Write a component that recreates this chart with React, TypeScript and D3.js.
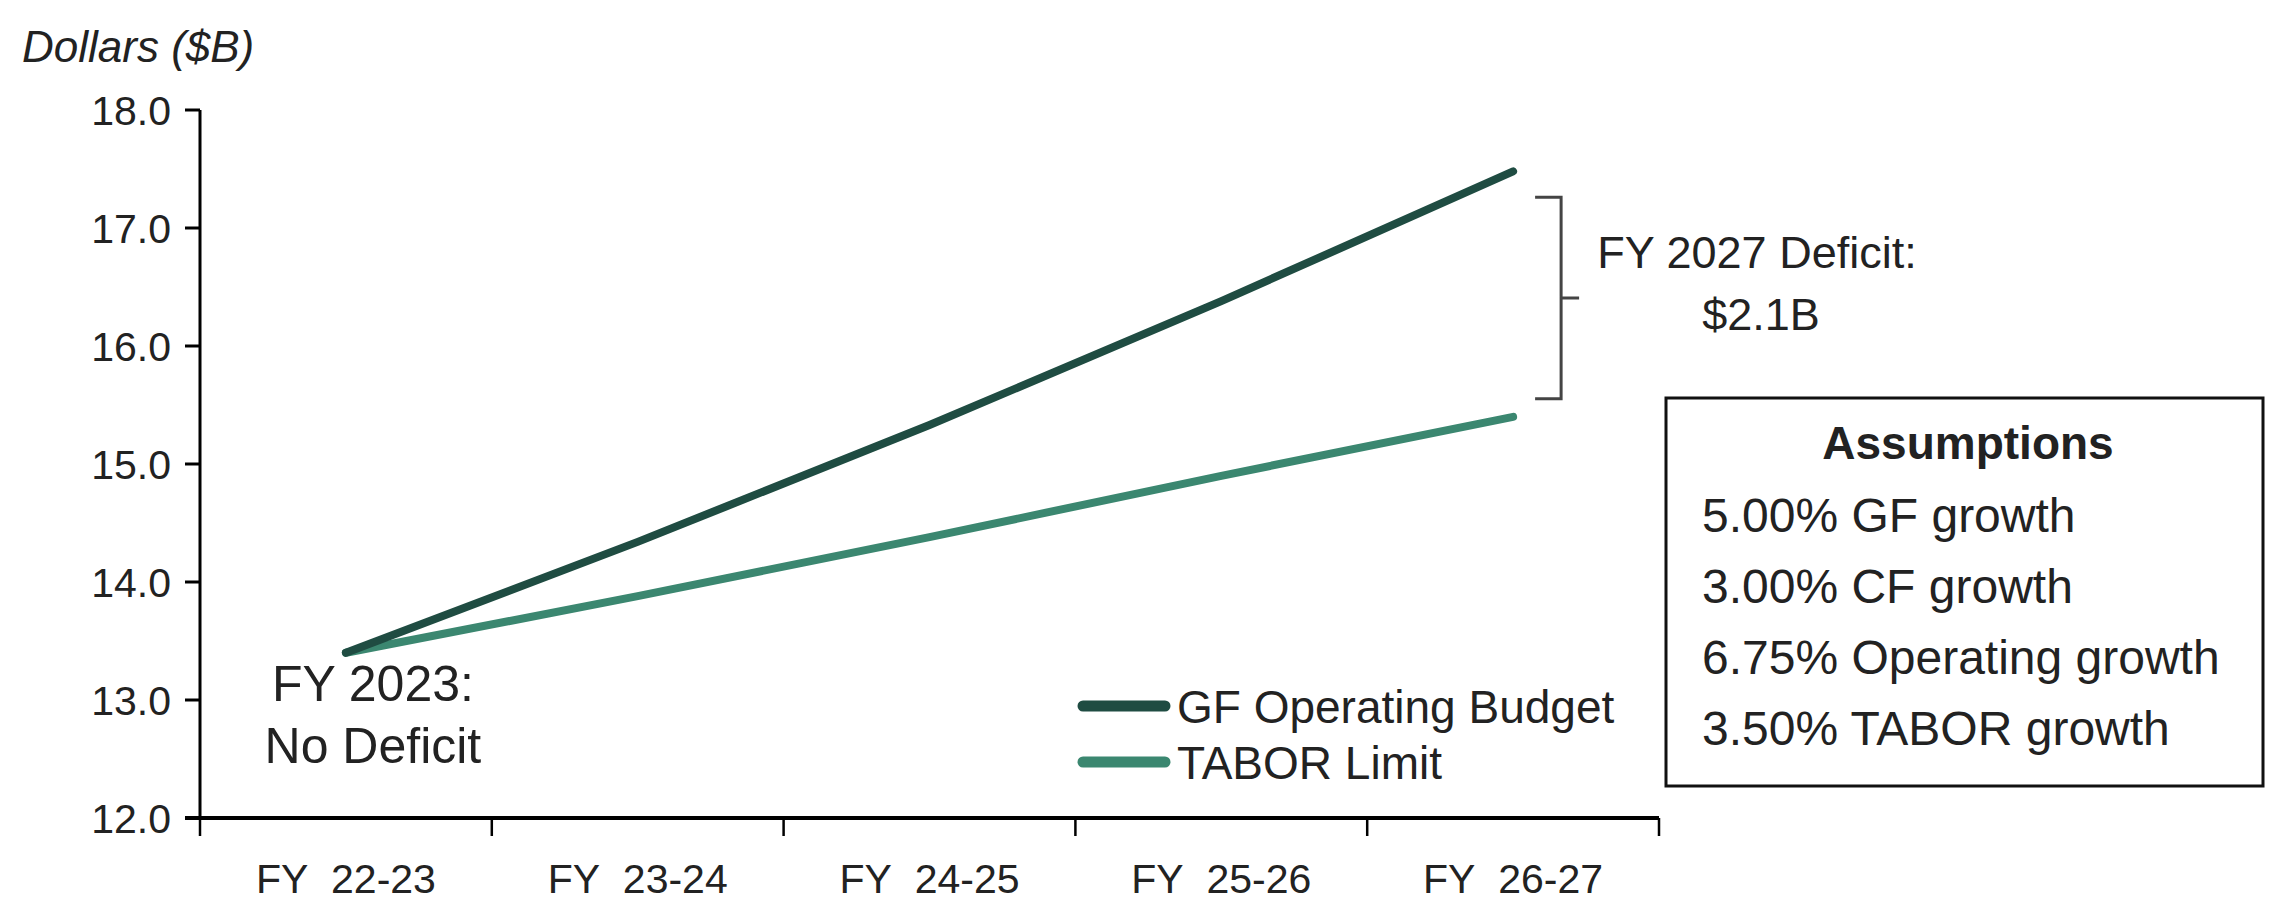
import * as d3 from 'd3';

const categories = ['FY 22-23', 'FY 23-24', 'FY 24-25', 'FY 25-26', 'FY 26-27'];
const gfBudget = [13.4, 14.34, 15.33, 16.38, 17.48];
const taborLimit = [13.4, 13.88, 14.38, 14.9, 15.4];
const yTicks = [12, 13, 14, 15, 16, 17, 18];
const assumptions = ['5.00% GF growth', '3.00% CF growth', '6.75% Operating growth', '3.50% TABOR growth'];

const seriesList = [
  { name: 'GF Operating Budget', values: gfBudget, color: '#1f4c42' },
  { name: 'TABOR Limit', values: taborLimit, color: '#3b8770' },
];

export default function App() {
  const width = 2292;
  const height = 902;
  const marginLeft = 200;
  const marginRight = 633;
  const marginTop = 110;
  const marginBottom = 84;
  const font = '"Liberation Sans", Arial, sans-serif';

  const x = d3
    .scaleBand<string>()
    .domain(categories)
    .range([marginLeft, width - marginRight]);

  const y = d3
    .scaleLinear()
    .domain([12, 18])
    .range([height - marginBottom, marginTop]);

  const cx = (i: number) => (x(categories[i]) ?? 0) + x.bandwidth() / 2;

  const line = d3
    .line<number>()
    .x((_, i) => cx(i))
    .y((d) => y(d));

  const last = categories.length - 1;
  // bracket between the two end values
  const bx = cx(last) + 48;
  const bTop = y(gfBudget[last]) + 26;
  const bBot = y(taborLimit[last]) - 18;
  const bMid = (bTop + bBot) / 2;

  const bandEdges = [...categories.map((c) => x(c) ?? 0), x.range()[1]];

  return (
    <svg
      width={width}
      height={height}
      style={{ position: 'absolute', left: 0, top: 0, background: '#fff' }}
      fontFamily={font}
    >
      {/* y label */}
      <text x={22} y={46} dy="0.36em" fontSize={44} fontStyle="italic" fill="#222">
        Dollars ($B)
      </text>

      {/* y axis */}
      <line x1={marginLeft} x2={marginLeft} y1={y(18)} y2={y(12)} stroke="#000" strokeWidth={3} />
      {yTicks.map((t) => (
        <g key={t}>
          <line x1={marginLeft - 15} x2={marginLeft} y1={y(t)} y2={y(t)} stroke="#000" strokeWidth={3} />
          <text x={marginLeft - 29} y={y(t)} dy="0.36em" textAnchor="end" fontSize={41} fill="#222">
            {t.toFixed(1)}
          </text>
        </g>
      ))}

      {/* x axis */}
      <line x1={marginLeft - 15} x2={x.range()[1]} y1={y(12)} y2={y(12)} stroke="#000" strokeWidth={4} />
      {bandEdges.map((e, i) => (
        <line key={i} x1={e} x2={e} y1={y(12)} y2={y(12) + 18} stroke="#000" strokeWidth={2.5} />
      ))}
      {categories.map((c, i) => (
        <text key={c} x={cx(i)} y={y(12) + 60} dy="0.36em" textAnchor="middle" fontSize={41} fill="#222">
          {c.replace(' ', '\u00a0 ')}
        </text>
      ))}

      {/* series */}
      {seriesList
        .slice()
        .reverse()
        .map((s) => (
          <path
            key={s.name}
            d={line(s.values) ?? ''}
            fill="none"
            stroke={s.color}
            strokeWidth={8}
            strokeLinecap="round"
          />
        ))}

      {/* start annotation */}
      <text x={cx(0) + 27} y={y(13) - 17} dy="0.36em" textAnchor="middle" fontSize={50} fill="#222">
        FY 2023:
      </text>
      <text x={cx(0) + 27} y={y(13) + 45} dy="0.36em" textAnchor="middle" fontSize={50} fill="#222">
        No Deficit
      </text>

      {/* legend */}
      {seriesList.map((s, i) => (
        <g key={s.name} transform={`translate(1079,${706 + i * 56})`}>
          <line x1={4} x2={86} y1={0} y2={0} stroke={s.color} strokeWidth={11} strokeLinecap="round" />
          <text x={98} y={0} dy="0.36em" fontSize={46} fill="#222">
            {s.name}
          </text>
        </g>
      ))}

      {/* deficit bracket */}
      <path
        d={`M${bx - 26},${bTop} L${bx},${bTop} L${bx},${bBot} L${bx - 26},${bBot} M${bx},${bMid} L${bx + 18},${bMid}`}
        fill="none"
        stroke="#444"
        strokeWidth={3}
      />
      <text x={1757} y={252} dy="0.36em" textAnchor="middle" fontSize={45} fill="#222">
        FY 2027 Deficit:
      </text>
      <text x={1761} y={314} dy="0.36em" textAnchor="middle" fontSize={45} fill="#222">
        $2.1B
      </text>

      {/* assumptions box */}
      <rect x={1666} y={398} width={597} height={388} fill="#fff" stroke="#111" strokeWidth={3} />
      <text x={1968} y={442} dy="0.36em" textAnchor="middle" fontSize={46} fontWeight="bold" fill="#222">
        Assumptions
      </text>
      {assumptions.map((a, i) => (
        <text key={a} x={1702} y={515 + i * 71} dy="0.36em" fontSize={48} fill="#222">
          {a}
        </text>
      ))}
    </svg>
  );
}
